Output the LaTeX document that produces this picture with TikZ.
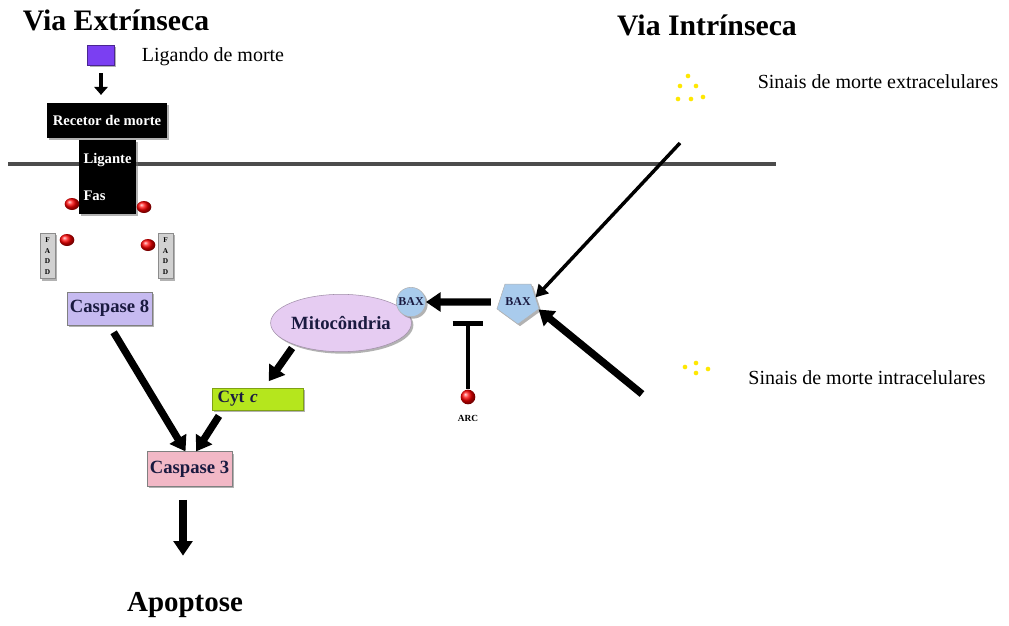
\documentclass[tikz,border=0pt]{standalone}
\usepackage{fontspec}
\setmainfont{Liberation Serif}
\usetikzlibrary{shapes.geometric, arrows.meta, shadows}
\definecolor{ligviolet}{HTML}{7B3FF2}
\definecolor{c8fill}{HTML}{C6BAF0}
\definecolor{c3fill}{HTML}{F2B8C6}
\definecolor{cytfill}{HTML}{B5E61D}
\definecolor{mitofill}{HTML}{E6CCF2}
\definecolor{baxblue}{HTML}{A9CBEC}
\definecolor{boxtext}{HTML}{1A1A40}

\begin{document}
\begin{tikzpicture}[
    x=0.75pt, y=-0.75pt,
    title/.style={font=\fontsize{22.3}{26}\selectfont\bfseries},
    lbl/.style={font=\fontsize{15}{18}\selectfont},
    shad/.style={drop shadow={shadow xshift=1.5pt, shadow yshift=-1.5pt, fill=black!60}},
    box/.style={shad, draw=black!50, inner sep=2pt, text=boxtext, font=\fontsize{14}{16}\selectfont\bfseries},
    blk/.style={shad, fill=black, text=white, inner sep=2pt, font=\fontsize{11}{13}\selectfont\bfseries},
    redball/.style={ellipse, inner sep=0pt, minimum width=11pt, minimum height=9pt, shading=ball, ball color=red},
    ydot/.style={circle, fill=yellow!90!orange, inner sep=0pt, minimum size=3.5pt},
    fadd/.style={shad, draw=black!45, fill=black!18, minimum width=11pt, minimum height=34pt, inner sep=0pt, align=center, font=\fontsize{5.5}{8}\selectfont\bfseries},
    bax/.style={shad, draw=black!30, fill=baxblue, inner sep=0pt, text=boxtext, font=\fontsize{9}{10}\selectfont\bfseries},
    arr/.style={-{Triangle[length=11pt, width=14pt]}, line width=5.5pt},
    thinarr/.style={-{Triangle[length=9pt, width=10pt]}, line width=2.6pt},
    smallarr/.style={-{Triangle[length=6pt, width=10pt]}, line width=3pt},
]
\useasboundingbox (0,0) rectangle (1009,625);
\draw[line width=2.4pt, black!70] (8,164) -- (776,164);

\node[title] (extr) at (116,20) {Via Extrínseca};
\node[title] (intr) at (707,25) {Via Intrínseca};

\node[shad, fill=ligviolet, draw=ligviolet!60!black, minimum width=20pt, minimum height=15pt, inner sep=0pt] (lig) at (101,55) {};
\node[lbl] (liglbl) at (213,57) {Ligando de morte};
\node[blk, minimum width=90pt, minimum height=26pt] (rec) at (107,120.5) {Recetor de morte};
\node[blk, minimum width=43pt, minimum height=56pt, text width=36pt, align=left] (fas) at (107.5,177) {Ligante\\[15pt]Fas};

\node[redball] (b1) at (72,204) {};
\node[redball] (b2) at (144,207) {};
\node[fadd] (fadd1) at (47.5,256) {F\\A\\D\\D};
\node[fadd] (fadd2) at (165.5,256) {F\\A\\D\\D};
\node[redball] (b3) at (67,240) {};
\node[redball] (b4) at (148,245) {};

\node[box, fill=c8fill, minimum width=64pt, minimum height=25pt] (cas8) at (109.5,308.5) {Caspase 8};
\node[box, fill=c3fill, minimum width=64pt, minimum height=26pt] (cas3) at (189.5,469) {Caspase 3};
\node[box, fill=cytfill, draw=cytfill!70!black, minimum width=68pt, minimum height=16.5pt, text width=60pt, align=left, font=\fontsize{13}{15}\selectfont\bfseries] (cytc) at (257.5,399) {Cyt \textit{c}};
\node[box, ellipse, fill=mitofill, draw=mitofill!70!black, minimum width=99pt, minimum height=43pt, inner sep=0pt] (mito) at (341,323) {Mitocôndria};
\node[bax, circle, minimum size=22pt] (baxc) at (411,302) {BAX};
\node[bax, regular polygon, regular polygon sides=5, minimum size=27pt, shape border rotate=180] (baxp) at (518,302) {BAX};
\node[font=\fontsize{21.7}{26}\selectfont\bfseries] (apop) at (185,605) {Apoptose};

\node[redball, circle, minimum size=11pt] (arc) at (468,397) {};
\node[font=\fontsize{7}{8}\selectfont\bfseries] (arclbl) at (468,418) {ARC};
\coordinate (inhib) at (468,321);

\node[ydot] (e1) at (688,76) {};
\node[ydot] (e2) at (680,86) {};
\node[ydot] (e3) at (696,86) {};
\node[ydot] (e4) at (678,99) {};
\node[ydot] (e5) at (691,99) {};
\node[ydot] (e6) at (703,97) {};
\node[lbl] (extlbl) at (878,82) {Sinais de morte extracelulares};
\coordinate (ext) at (680,143);

\node[ydot] (i1) at (696,363) {};
\node[ydot] (i2) at (685,367) {};
\node[ydot] (i3) at (708,369) {};
\node[ydot] (i4) at (696,373) {};
\node[lbl] (intlbl) at (867,378) {Sinais de morte intracelulares};
\coordinate (intra) at (642,394);

\draw[smallarr, shorten <=6pt, shorten >=6pt] (lig.south) -- (lig.south |- rec.north);
\draw[arr, shorten <=6pt] (cas8.south) -- ([xshift=-3pt]cas3.north);
\draw[arr, shorten <=3pt, shorten >=6pt] (mito.205) -- ([xshift=5pt]cytc.north);
\draw[arr, shorten <=5pt] ([xshift=8pt]cytc.south west) -- ([xshift=5pt]cas3.north);
\draw[arr, shorten <=5pt, shorten >=2pt] ([xshift=-1.5pt, yshift=-5pt]apop.north |- cas3.south) -- ([xshift=-1.5pt, yshift=22pt]apop.north);
\draw[arr, shorten <=6pt] (baxp.west) -- (baxc.east);
\draw[thinarr] (ext) -- (baxp.15);
\draw[arr] (intra) -- (baxp.-20);
\draw[{Bar[width=23pt, line width=3.5pt]}-, line width=2.3pt] (inhib) -- (arc.north);
\end{tikzpicture}
\end{document}
